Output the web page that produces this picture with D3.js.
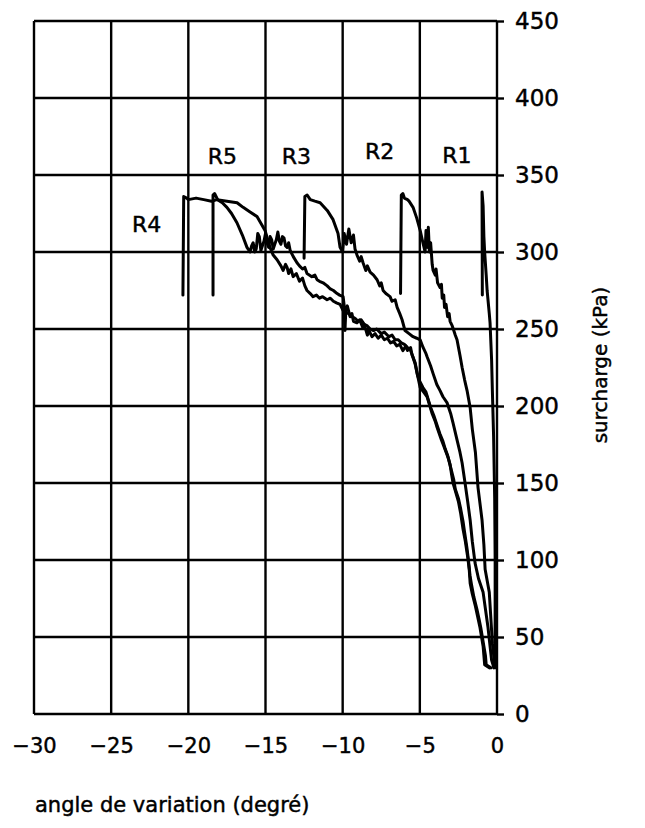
<!DOCTYPE html>
<html><head><meta charset="utf-8">
<script src="https://cdn.jsdelivr.net/npm/d3@7"></script>
<style>body{margin:0;background:#fff}svg{display:block}text{font-family:"DejaVu Sans",sans-serif;fill:#000;stroke:#000;stroke-width:0.45px}</style>
</head><body><svg id="c" width="645" height="828"></svg>
<script>
// Tick values
const xTicks = [-30, -25, -20, -15, -10, -5, 0];
const yTicks = [0, 50, 100, 150, 200, 250, 300, 350, 400, 450];
// Series labels and their (angle, load) anchor in data units
const labelNames = ["R5", "R3", "R2", "R1", "R4"];
const labelX = [-17.8, -13.0, -7.6, -2.6, -22.7];
const labelY = [361, 361, 364, 362, 317];
// Curves: [angle (degré), surcharge (kPa)]
const R1 = [[-0.95,272],[-0.97,339],[-0.9,330],[-0.85,310],[-0.8,300],[-0.7,285],[-0.64,275],[-0.5,260],[-0.45,254],[-0.35,230],[-0.3,210],[-0.22,180],[-0.15,140],[-0.12,100],[-0.12,60],[-0.15,35],[-0.2,30]];
const R2 = [[-6.25,273],[-6.2,337],[-6.1,338],[-6.0,335],[-5.8,334],[-5.7,333],[-5.44,329],[-5.2,322],[-4.98,314],[-4.8,306],[-4.66,300],[-4.6,314],[-4.5,303],[-4.45,316],[-4.38,300],[-4.3,306],[-4.2,292],[-4.14,288],[-4.0,285],[-3.95,289],[-3.85,280],[-3.69,277],[-3.6,279],[-3.55,270],[-3.45,272],[-3.4,264],[-3.3,266],[-3.2,258],[-3.1,260],[-3.04,255],[-2.9,252],[-2.8,249],[-2.7,246],[-2.59,243],[-2.4,233],[-2.26,225],[-2.1,217],[-1.94,210],[-1.74,199],[-1.6,185],[-1.4,170],[-1.23,147],[-0.97,126],[-0.85,110],[-0.77,94],[-0.5,79],[-0.3,46],[-0.15,32],[-0.1,30]];
const R3 = [[-12.5,296],[-12.45,336],[-12.3,337],[-12.1,334],[-11.8,333],[-11.46,332],[-11.0,327],[-10.62,321],[-10.3,312],[-10.17,303],[-10.0,300],[-9.9,312],[-9.75,305],[-9.6,315],[-9.45,306],[-9.3,311],[-9.2,302],[-9.07,298],[-8.9,294],[-8.8,297],[-8.68,293],[-8.5,288],[-8.4,291],[-8.22,287],[-8.0,285],[-7.77,282],[-7.6,278],[-7.5,280],[-7.38,275],[-7.2,273],[-6.93,271],[-6.8,268],[-6.6,269],[-6.47,264],[-6.3,260],[-6.15,256],[-5.96,249],[-5.7,247],[-5.44,245],[-5.2,244],[-4.98,243],[-4.79,238],[-4.6,234],[-4.53,232],[-4.3,226],[-4.14,221],[-3.9,214],[-3.69,210],[-3.5,206],[-3.23,202],[-3.0,195],[-2.85,189],[-2.59,178],[-2.4,170],[-2.26,163],[-2.07,150],[-1.9,138],[-1.74,126],[-1.6,112],[-1.42,98],[-1.2,88],[-0.9,79],[-0.58,56],[-0.35,35],[-0.2,30]];
const R4 = [[-20.35,272],[-20.3,336],[-20.1,335],[-20.0,334],[-19.5,335],[-19.0,334],[-18.5,333],[-18.14,334],[-17.5,333],[-16.84,332],[-16.45,329],[-16.0,326],[-15.55,323],[-15.03,314],[-14.71,303],[-14.5,298],[-14.25,295],[-14.0,291],[-13.86,288],[-13.7,292],[-13.6,290],[-13.5,286],[-13.35,289],[-13.21,284],[-13.0,286],[-12.8,281],[-12.6,283],[-12.45,278],[-12.31,275],[-12.1,273],[-11.92,271],[-11.7,272],[-11.5,270],[-11.3,271],[-11.01,269],[-10.8,270],[-10.6,268],[-10.4,267],[-10.17,266],[-9.97,262],[-9.9,262],[-9.85,249],[-9.8,261],[-9.6,260],[-9.4,258],[-9.2,257],[-9.0,255],[-8.8,256],[-8.6,253],[-8.4,252],[-8.22,250],[-8.0,249],[-7.8,250],[-7.5,247],[-7.3,248],[-7.0,245],[-6.8,246],[-6.6,243],[-6.4,243],[-6.2,241],[-6.0,240],[-5.8,238],[-5.6,236],[-5.45,232],[-5.3,227],[-5.15,220],[-5.0,216],[-4.8,212],[-4.6,209],[-4.45,204],[-4.3,199],[-4.1,194],[-3.9,188],[-3.7,182],[-3.5,177],[-3.35,172],[-3.2,168],[-3.05,162],[-2.95,158],[-2.8,152],[-2.7,146],[-2.5,140],[-2.35,133],[-2.2,125],[-2.1,118],[-1.95,108],[-1.85,100],[-1.75,90],[-1.65,84],[-1.5,76],[-1.3,68],[-1.15,61],[-1.05,56],[-0.95,50],[-0.85,44],[-0.75,38],[-0.7,32],[-0.4,30]];
const R5 = [[-18.4,272],[-18.4,337],[-18.3,338],[-18.1,334],[-17.8,332],[-17.5,329],[-17.2,325],[-16.85,319],[-16.5,311],[-16.2,303],[-16.0,300],[-15.9,304],[-15.8,306],[-15.7,300],[-15.6,302],[-15.5,312],[-15.4,310],[-15.3,301],[-15.2,304],[-15.1,307],[-15.0,312],[-14.9,306],[-14.8,303],[-14.7,310],[-14.6,308],[-14.5,302],[-14.4,305],[-14.3,308],[-14.2,313],[-14.1,307],[-14.0,305],[-13.9,310],[-13.8,309],[-13.7,304],[-13.6,303],[-13.5,306],[-13.4,301],[-13.2,297],[-12.96,293],[-12.8,291],[-12.6,289],[-12.45,290],[-12.31,286],[-12.0,284],[-11.8,285],[-11.66,282],[-11.5,281],[-11.27,280],[-11.0,278],[-10.8,276],[-10.6,275],[-10.36,273],[-10.2,272],[-9.97,271],[-9.9,265],[-9.8,262],[-9.7,265],[-9.52,258],[-9.4,260],[-9.3,255],[-9.07,254],[-8.9,256],[-8.7,251],[-8.6,253],[-8.4,246],[-8.3,249],[-8.1,245],[-7.9,247],[-7.7,244],[-7.5,246],[-7.3,243],[-7.1,244],[-6.9,241],[-6.7,242],[-6.5,239],[-6.3,240],[-6.1,236],[-5.9,239],[-5.8,236],[-5.6,238],[-5.5,233],[-5.3,228],[-5.17,221],[-4.98,212],[-4.75,209],[-4.53,206],[-4.35,200],[-4.2,195],[-4.0,190],[-3.88,186],[-3.6,178],[-3.45,174],[-3.3,170],[-3.15,166],[-3.04,162],[-2.95,156],[-2.85,150],[-2.7,145],[-2.5,138],[-2.35,130],[-2.2,120],[-2.05,112],[-1.9,102],[-1.8,94],[-1.74,85],[-1.6,78],[-1.4,70],[-1.25,63],[-1.1,56],[-1.0,50],[-0.9,44],[-0.85,38],[-0.8,32],[-0.5,30]];
const series = [R1, R2, R3, R4, R5];

const svg = d3.select("#c");
const L = 34, R = 497, T = 21, B = 714;
const x = d3.scaleLinear().domain([-30, 0]).range([L, R]);
const y = d3.scaleLinear().domain([0, 450]).range([B, T]);

// grid
const g = svg.append("g");
g.selectAll("line.v").data(xTicks).join("line")
  .attr("x1", d => x(d)).attr("x2", d => x(d)).attr("y1", T).attr("y2", B)
  .attr("stroke", "#000").attr("stroke-width", 2.4);
g.selectAll("line.h").data(yTicks).join("line")
  .attr("x1", L).attr("x2", R).attr("y1", d => y(d)).attr("y2", d => y(d))
  .attr("stroke", "#000").attr("stroke-width", 2.4);

// right axis
const ya = svg.append("g").attr("transform", `translate(${R},0)`)
  .call(d3.axisRight(y).tickValues(yTicks).tickSize(7).tickPadding(11).tickFormat(d3.format("d")));
ya.select(".domain").remove();
ya.selectAll("line").attr("stroke", "#000").attr("stroke-width", 2.4);
ya.selectAll("text").style("font-size", "23px").attr("font-family", "DejaVu Sans");

// bottom axis labels
const xa = svg.append("g").attr("transform", `translate(0,${B})`)
  .call(d3.axisBottom(x).tickValues(xTicks).tickSize(0).tickPadding(24).tickFormat(d => d < 0 ? "\u2212" + Math.abs(d) : d));
xa.select(".domain").remove();
xa.selectAll("text").style("font-size", "21px").attr("font-family", "DejaVu Sans");

// curves
const line = d3.line().x(d => x(d[0])).y(d => y(d[1]));
svg.selectAll("path.curve").data(series).join("path")
  .attr("class", "curve").attr("d", line)
  .attr("fill", "none").attr("stroke", "#000").attr("stroke-width", 3)
  .attr("stroke-linejoin", "round").attr("stroke-linecap", "round");

// series labels
svg.selectAll("text.lab").data(labelNames).join("text")
  .attr("class", "lab")
  .attr("x", (d, i) => x(labelX[i])).attr("y", (d, i) => y(labelY[i]))
  .attr("text-anchor", "middle").attr("dominant-baseline", "middle")
  .style("font-size", "22px").text(d => d);

// axis titles
svg.append("text").attr("x", 35).attr("y", 812).style("font-size", "21px")
  .text("angle de variation (degré)");
svg.append("text").attr("transform", "translate(607,365) rotate(-90)")
  .attr("text-anchor", "middle").style("font-size", "20px").text("surcharge (kPa)");
</script></body></html>
